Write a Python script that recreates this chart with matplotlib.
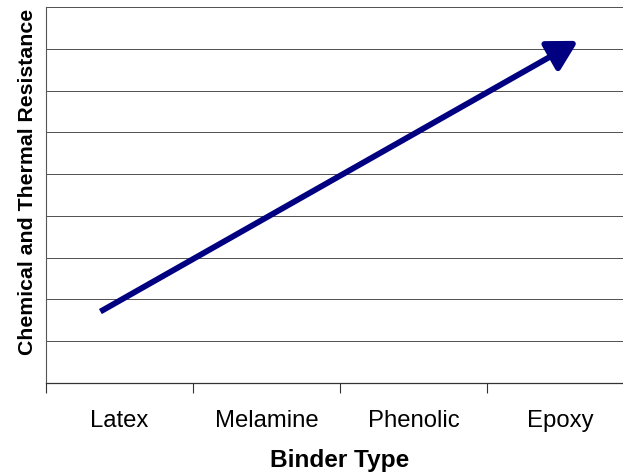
import numpy as np
import matplotlib
matplotlib.use('Agg')
import matplotlib.pyplot as plt

plt.rcParams['font.family'] = ['Liberation Sans', 'DejaVu Sans']

# categories along the x axis
categories = ['Latex', 'Melamine', 'Phenolic', 'Epoxy']
# arrow (trend) start / end in data units
arrow_x = [0.37, 3.62]
arrow_y = [1.71, 8.19]
n_grid = 9

fig = plt.figure(figsize=(6.23, 4.72), dpi=100)
ax = fig.add_axes([46 / 623, 1 - 383 / 472, 588 / 623, 376 / 472])

ax.set_xlim(0, len(categories))
ax.set_ylim(0, n_grid)

# gridlines
for yv in range(1, n_grid + 1):
    ax.axhline(yv, color='#555555', lw=0.72, zorder=1)

ax.annotate('', xy=(arrow_x[1], arrow_y[1]), xytext=(arrow_x[0], arrow_y[0]),
            arrowprops=dict(arrowstyle='-|>,head_length=0.9,head_width=0.5',
                            color='#000080', lw=4.2, mutation_scale=20,
                            shrinkA=0, shrinkB=0, capstyle='butt'),
            zorder=3)

# category boundaries as ticks, labels centred between
ax.set_xticks(np.arange(len(categories) + 1))
ax.set_xticklabels([])
ax.set_xticks(np.arange(len(categories)) + 0.5, minor=True)
ax.set_xticklabels(categories, minor=True, fontsize=17.2)
ax.tick_params(axis='x', which='major', length=7, width=0.8, color='#333333')
ax.tick_params(axis='x', which='minor', length=0, pad=19.5)
ax.set_yticks([])

for side in ['top', 'right']:
    ax.spines[side].set_visible(False)
ax.spines['left'].set_color('#555555')
ax.spines['bottom'].set_color('#333333')
ax.spines['left'].set_linewidth(0.8)
ax.spines['bottom'].set_linewidth(0.9)

ax.set_xlabel('Binder Type', fontsize=17.6, fontweight='bold', labelpad=12)
ax.set_ylabel('Chemical and Thermal Resistance', fontsize=15.3, fontweight='bold')
ax.yaxis.set_label_coords(-0.016, 0.535)

fig.savefig('out.png', dpi=100)
